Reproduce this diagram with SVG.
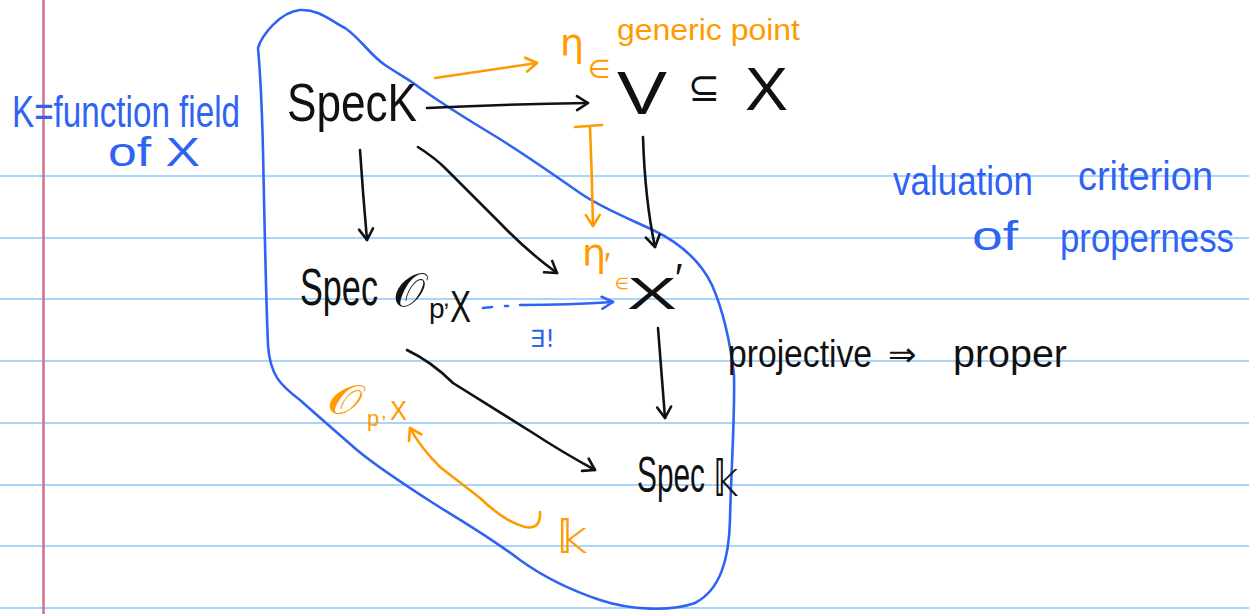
<svg xmlns="http://www.w3.org/2000/svg" width="1249" height="614" viewBox="0 0 1249 614">
<style>
.rule{stroke:#a9d5fb;stroke-width:2}
.t{font-family:"Liberation Sans","DejaVu Sans",sans-serif}
.m{font-family:"DejaVu Sans","Liberation Sans",sans-serif}
.k{fill:#111}
.o{fill:#ff9a00}
.b{fill:#2f63f2}
.ck{fill:none;stroke:#111;stroke-width:2.6;stroke-linecap:round;stroke-linejoin:round}
.co{fill:none;stroke:#ff9a00;stroke-width:2.6;stroke-linecap:round;stroke-linejoin:round}
.cb{fill:none;stroke:#2f63f2;stroke-width:2.6;stroke-linecap:round;stroke-linejoin:round}
</style>
<defs>
<marker id="ak" markerUnits="userSpaceOnUse" markerWidth="20" markerHeight="20" refX="13" refY="9" orient="auto"><path d="M2,2 L13,9 L2,16" fill="none" stroke="#111" stroke-width="2.6" stroke-linecap="round" stroke-linejoin="round"/></marker>
<marker id="ao" markerUnits="userSpaceOnUse" markerWidth="20" markerHeight="20" refX="13" refY="9" orient="auto"><path d="M2,2 L13,9 L2,16" fill="none" stroke="#ff9a00" stroke-width="2.6" stroke-linecap="round" stroke-linejoin="round"/></marker>
<marker id="ab" markerUnits="userSpaceOnUse" markerWidth="20" markerHeight="20" refX="13" refY="9" orient="auto"><path d="M2,3 L13,9 L2,15" fill="none" stroke="#2f63f2" stroke-width="2.6" stroke-linecap="round" stroke-linejoin="round"/></marker>
</defs>
<rect width="1249" height="614" fill="#ffffff"/>
<g id="paper">
<line class="rule" x1="0" y1="176" x2="1249" y2="176"/>
<line class="rule" x1="0" y1="238" x2="1249" y2="238"/>
<line class="rule" x1="0" y1="299" x2="1249" y2="299"/>
<line class="rule" x1="0" y1="361" x2="1249" y2="361"/>
<line class="rule" x1="0" y1="423" x2="1249" y2="423"/>
<line class="rule" x1="0" y1="485" x2="1249" y2="485"/>
<line class="rule" x1="0" y1="546" x2="1249" y2="546"/>
<line class="rule" x1="0" y1="608" x2="1249" y2="608"/>
<line x1="43.5" y1="0" x2="43.5" y2="614" stroke="#d2708e" stroke-width="2.5"/>
</g>
<g id="blob">
<path class="cb" stroke-width="3" d="M258,48 C262,35 280,12 300,10 C318,9 330,20 345,28 C360,38 370,55 385,65 C400,75 410,80 420,88 C440,102 465,118 490,133 C515,148 550,172 580,193 C600,207 625,217 653,230 C680,243 700,260 712,285 C722,308 730,340 734,375 C735,420 731,470 730,520 C729,560 720,590 695,603 C670,612 630,610 600,600 C570,590 545,578 520,560 C490,537 460,520 433,503 C405,485 375,465 357,450 C340,435 320,418 300,400 C280,385 270,375 268,345 C266,300 264,200 263,150 C262,110 260,70 258,48"/>
</g>
<g id="connectors">
<path class="ck" marker-end="url(#ak)" d="M427,108 Q510,104 588,103"/>
<path class="ck" marker-end="url(#ak)" d="M360,150 Q363,195 367,240"/>
<path class="ck" marker-end="url(#ak)" d="M418,147 Q435,158 445,168 L500,223 Q528,252 557,273"/>
<path class="ck" marker-end="url(#ak)" d="M643,137 Q645,200 655,247"/>
<path class="ck" marker-end="url(#ak)" d="M658,328 L665,418"/>
<path class="ck" marker-end="url(#ak)" d="M407,350 Q432,362 453,383 L533,433 Q562,452 595,470"/>
<path class="cb" d="M483,308 L492,307 M505,306 L508,306"/>
<path class="cb" marker-end="url(#ab)" d="M520,305 Q570,305 613,302"/>
<path class="co" marker-end="url(#ao)" d="M435,78 Q490,70 537,63"/>
<path class="co" d="M575,127 L602,125"/>
<path class="co" marker-end="url(#ao)" d="M590,127 Q592,175 593,226"/>
<path class="co" marker-end="url(#ao)" d="M540,512 Q541,530 525,527 Q505,522 480,498 L440,467 Q420,447 410,428"/>
</g>
<g id="node-speck-top">
<text class="t k" x="287" y="121" font-size="54" textLength="130" lengthAdjust="spacingAndGlyphs">SpecK</text>
</g>
<g id="node-v-in-x">
<text class="t k" x="617" y="114" font-size="62" textLength="50" lengthAdjust="spacingAndGlyphs">V</text>
<text class="m k" x="688" y="101" font-size="40" textLength="32" lengthAdjust="spacingAndGlyphs">⊆</text>
<text class="t k" x="745" y="110" font-size="62" textLength="43" lengthAdjust="spacingAndGlyphs">X</text>
</g>
<g id="node-generic-point">
<text class="m o" x="560" y="56" font-size="38">η</text>
<text class="m o" x="588" y="78" font-size="26">∈</text>
<text class="t o" x="617" y="40" font-size="30" textLength="183" lengthAdjust="spacingAndGlyphs">generic point</text>
</g>
<g id="node-spec-o">
<text class="t k" x="300" y="305" font-size="52" textLength="78" lengthAdjust="spacingAndGlyphs">Spec</text>
<text class="m k" x="393" y="306" font-size="46" textLength="32" lengthAdjust="spacingAndGlyphs">𝒪</text>
<text class="t k" x="429" y="318" font-size="28">p</text>
<text class="t k" x="443" y="306" font-size="24">,</text>
<text class="t k" x="450" y="322" font-size="44" textLength="21" lengthAdjust="spacingAndGlyphs">X</text>
</g>
<g id="node-x-prime">
<text class="t k" x="627" y="309" font-size="44" textLength="50" lengthAdjust="spacingAndGlyphs">X</text>
<text class="t k" x="675" y="292" font-size="40">′</text>
<text class="m o" x="582" y="266" font-size="38">η</text>
<text class="t o" x="604" y="276" font-size="34">′</text>
<text class="m o" x="615" y="289" font-size="16">∈</text>
</g>
<g id="node-spec-k-bottom">
<text class="t k" x="637" y="492" font-size="50" textLength="68" lengthAdjust="spacingAndGlyphs">Spec</text>
<text class="m k" x="713" y="496" font-size="50" textLength="25" lengthAdjust="spacingAndGlyphs">𝕜</text>
</g>
<g id="node-exists">
<text class="m b" x="530" y="347" font-size="24">∃!</text>
</g>
<g id="node-orange-o">
<text class="m o" x="327" y="414" font-size="40" textLength="35" lengthAdjust="spacingAndGlyphs">𝒪</text>
<text class="t o" x="367" y="426" font-size="22">p</text>
<text class="t o" x="381" y="418" font-size="20">,</text>
<text class="t o" x="390" y="420" font-size="28" textLength="17" lengthAdjust="spacingAndGlyphs">X</text>
<text class="m o" x="557" y="553" font-size="46" textLength="30" lengthAdjust="spacingAndGlyphs">𝕜</text>
</g>
<g id="node-function-field">
<text class="t b" x="12" y="127" font-size="44" textLength="228" lengthAdjust="spacingAndGlyphs">K=function field</text>
<text class="t b" x="108" y="166" font-size="40" textLength="92" lengthAdjust="spacingAndGlyphs">of  X</text>
</g>
<g id="node-valuation">
<text class="t b" x="893" y="195" font-size="40" textLength="140" lengthAdjust="spacingAndGlyphs">valuation</text>
<text class="t b" x="1078" y="190" font-size="40" textLength="135" lengthAdjust="spacingAndGlyphs">criterion</text>
<text class="t b" x="972" y="250" font-size="40" textLength="46" lengthAdjust="spacingAndGlyphs">of</text>
<text class="t b" x="1060" y="252" font-size="40" textLength="174" lengthAdjust="spacingAndGlyphs">properness</text>
</g>
<g id="node-projective">
<text class="t k" x="728" y="367" font-size="38" textLength="144" lengthAdjust="spacingAndGlyphs">projective</text>
<text class="m k" x="888" y="366" font-size="34">⇒</text>
<text class="t k" x="953" y="367" font-size="38" textLength="114" lengthAdjust="spacingAndGlyphs">proper</text>
</g>
</svg>
